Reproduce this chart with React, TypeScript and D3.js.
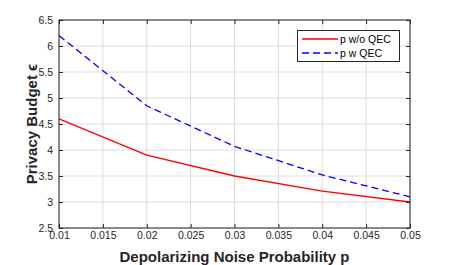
import { useEffect, useRef } from "react";
import * as d3 from "d3";

const noiseP = [0.01, 0.02, 0.03, 0.04, 0.05];
const budgetNoQec = [4.6, 3.9, 3.5, 3.21, 3.0];
const budgetQec = [6.2, 4.85, 4.07, 3.52, 3.1];
const xTicks = [0.01, 0.015, 0.02, 0.025, 0.03, 0.035, 0.04, 0.045, 0.05];
const yTicks = [2.5, 3, 3.5, 4, 4.5, 5, 5.5, 6, 6.5];
const seriesNames = ["p w/o QEC", "p w QEC"];

export default function App() {
  const ref = useRef<SVGSVGElement | null>(null);

  useEffect(() => {
    const svg = d3.select(ref.current);
    svg.selectAll("*").remove();

    const margin = { top: 20, right: 44, bottom: 37, left: 59 };
    const width = 454;
    const height = 265;
    const plotW = width - margin.left - margin.right;
    const plotH = height - margin.top - margin.bottom;
    const font = "Liberation Sans, Arial, Helvetica, sans-serif";
    const tickColor = "#262626";

    const x = d3.scaleLinear().domain([0.01, 0.05]).range([0, plotW]);
    const y = d3.scaleLinear().domain([2.5, 6.5]).range([plotH, 0]);

    svg.append("rect").attr("width", width).attr("height", height).attr("fill", "#fff");

    const g = svg.append("g").attr("transform", `translate(${margin.left},${margin.top})`);

    // grid
    g.append("g")
      .selectAll("line")
      .data(xTicks)
      .join("line")
      .attr("x1", (d) => x(d))
      .attr("x2", (d) => x(d))
      .attr("y1", 0)
      .attr("y2", plotH)
      .attr("stroke", "#dcdcdc")
      .attr("stroke-width", 1);
    g.append("g")
      .selectAll("line")
      .data(yTicks)
      .join("line")
      .attr("x1", 0)
      .attr("x2", plotW)
      .attr("y1", (d) => y(d))
      .attr("y2", (d) => y(d))
      .attr("stroke", "#dcdcdc")
      .attr("stroke-width", 1);

    // lines
    const line = d3
      .line<number>()
      .x((_, i) => x(noiseP[i]))
      .y((d) => y(d));

    g.append("path")
      .datum(budgetNoQec)
      .attr("d", line)
      .attr("fill", "none")
      .attr("stroke", "#ff0000")
      .attr("stroke-width", 1.3);
    g.append("path")
      .datum(budgetQec)
      .attr("d", line)
      .attr("fill", "none")
      .attr("stroke", "#0000ff")
      .attr("stroke-width", 1.3)
      .attr("stroke-dasharray", "7,4");

    // axes, ticks inward
    const styleAxis = (a: any) => {
      a.select(".domain").remove();
      a.selectAll("line").attr("stroke", tickColor);
      a.selectAll("text")
        .attr("font-family", font)
        .attr("font-size", 10.5)
        .attr("fill", tickColor);
    };
    g.append("g")
      .attr("transform", `translate(0,${plotH})`)
      .call(d3.axisBottom(x).tickValues(xTicks).tickSizeInner(-4).tickSizeOuter(0).tickPadding(6).tickFormat((d) => String(+d)))
      .call(styleAxis)
      .selectAll("text")
      .attr("dy", "0.5em");
    g.append("g")
      .call(d3.axisTop(x).tickValues(xTicks).tickSizeInner(-4).tickSizeOuter(0).tickFormat(() => ""))
      .call(styleAxis);
    g.append("g")
      .call(d3.axisLeft(y).tickValues(yTicks).tickSizeInner(-4).tickSizeOuter(0).tickPadding(6).tickFormat((d) => String(+d)))
      .call(styleAxis);
    g.append("g")
      .attr("transform", `translate(${plotW},0)`)
      .call(d3.axisRight(y).tickValues(yTicks).tickSizeInner(-4).tickSizeOuter(0).tickFormat(() => ""))
      .call(styleAxis);

    g.append("rect")
      .attr("width", plotW)
      .attr("height", plotH)
      .attr("fill", "none")
      .attr("stroke", tickColor)
      .attr("stroke-width", 1);

    // legend
    const lg = svg.append("g").attr("transform", "translate(297,30)");
    lg.append("rect")
      .attr("x", 0.5)
      .attr("y", 0.5)
      .attr("width", 102)
      .attr("height", 31)
      .attr("fill", "#fff")
      .attr("stroke", tickColor)
      .attr("stroke-width", 1);
    const colors = ["#ff0000", "#0000ff"];
    const dashes = [null, "7,4"];
    seriesNames.forEach((name, i) => {
      const yy = 9 + i * 14;
      lg.append("line")
        .attr("x1", 5)
        .attr("x2", 41)
        .attr("y1", yy)
        .attr("y2", yy)
        .attr("stroke", colors[i])
        .attr("stroke-width", 1.3)
        .attr("stroke-dasharray", dashes[i]);
      lg.append("text")
        .attr("x", 43)
        .attr("y", yy + 3.5)
        .attr("font-family", font)
        .attr("font-size", 10.5)
        .attr("fill", "#000")
        .text(name);
    });

    // axis labels
    svg.append("text")
      .attr("x", margin.left + plotW / 2)
      .attr("y", 262)
      .attr("text-anchor", "middle")
      .attr("font-family", font)
      .attr("font-weight", "bold")
      .attr("font-size", 15)
      .attr("fill", tickColor)
      .text("Depolarizing Noise Probability p");
    svg.append("text")
      .attr("transform", `translate(37,${margin.top + plotH / 2}) rotate(-90)`)
      .attr("text-anchor", "middle")
      .attr("font-family", font)
      .attr("font-weight", "bold")
      .attr("font-size", 15)
      .attr("fill", tickColor)
      .text("Privacy Budget ϵ");
  }, []);

  return (
    <svg
      ref={ref}
      width={454}
      height={265}
      style={{ position: "absolute", left: 0, top: 0, display: "block" }}
    />
  );
}
